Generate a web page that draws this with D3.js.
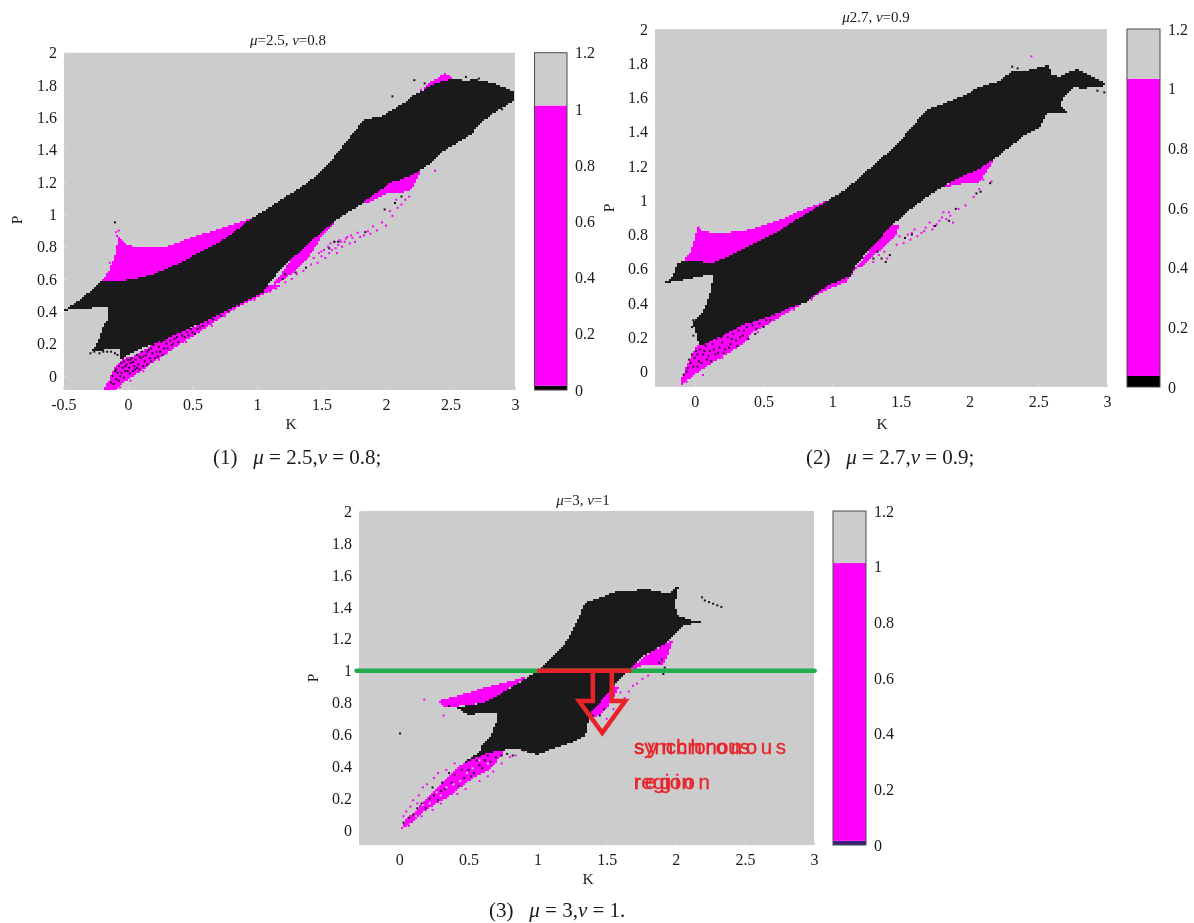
<!DOCTYPE html>
<html><head><meta charset="utf-8">
<script src="https://cdn.jsdelivr.net/npm/d3@7/dist/d3.min.js"></script>
<style>
html,body{margin:0;padding:0;background:#fff}
svg{display:block;filter:blur(0.45px)}
text{font-family:"Liberation Serif","Times New Roman",serif;fill:#1a1a1a}
.domain{display:none}
</style></head><body>
<svg id="c" width="1194" height="923"></svg>
<script>
// ---------- data: tick values and labels ----------
const pTicks = [0,0.2,0.4,0.6,0.8,1,1.2,1.4,1.6,1.8,2];
const kTicksWide = [-0.5,0,0.5,1,1.5,2,2.5,3];
const kTicksNarrow = [0,0.5,1,1.5,2,2.5,3];
const barTicks = [0,0.2,0.4,0.6,0.8,1,1.2];

// colour-bar value bands per panel [from, to]
const bar1Bands = [[0,0.015],[0.015,1.012],[1.012,1.2]];
const bar2Bands = [[0,0.037],[0.037,1.033],[1.033,1.2]];
const bar3Bands = [[0,0.015],[0.015,1.013],[1.013,1.2]];

// ---------- panel 1 outlines in (K,P) ----------
const p1Black = [[-0.5,0.406],[-0.43,0.44],[-0.38,0.47],[-0.33,0.5],[-0.26,0.55],[-0.2,0.595],[-0.1,0.595],[-0.016,0.595],[0.1,0.61],[0.19,0.63],[0.3,0.665],[0.4,0.7],[0.53,0.755],[0.67,0.81],[0.8,0.88],[0.965,0.98],[1.05,1.02],[1.14,1.07],[1.26,1.13],[1.38,1.19],[1.47,1.25],[1.56,1.32],[1.62,1.38],[1.68,1.44],[1.76,1.52],[1.83,1.59],[1.9,1.6],[1.97,1.61],[2.06,1.655],[2.15,1.695],[2.2,1.73],[2.27,1.76],[2.35,1.8],[2.46,1.83],[2.55,1.845],[2.6,1.83],[2.69,1.835],[2.77,1.825],[2.84,1.81],[2.92,1.785],[3,1.76],[3,1.705],[2.94,1.68],[2.9,1.66],[2.82,1.62],[2.72,1.56],[2.67,1.5],[2.63,1.48],[2.52,1.43],[2.42,1.38],[2.36,1.33],[2.3,1.29],[2.2,1.245],[2.09,1.21],[2.04,1.2],[1.9,1.12],[1.78,1.05],[1.65,0.985],[1.52,0.906],[1.4,0.82],[1.26,0.72],[1.15,0.63],[1.08,0.56],[1.05,0.52],[0.9,0.46],[0.74,0.395],[0.585,0.335],[0.4,0.27],[0.25,0.215],[0.1,0.17],[0.05,0.155],[0,0.13],[-0.05,0.1],[-0.06,0.12],[-0.07,0.17],[-0.12,0.17],[-0.2,0.16],[-0.29,0.15],[-0.24,0.2],[-0.2,0.29],[-0.16,0.35],[-0.15,0.42],[-0.2,0.43],[-0.3,0.42],[-0.43,0.415]];
const p1Magenta = [
  [[-0.2,0.595],[-0.15,0.65],[-0.11,0.72],[-0.09,0.78],[-0.075,0.85],[-0.09,0.875],[-0.06,0.86],[-0.015,0.815],[0.05,0.8],[0.13,0.8],[0.28,0.8],[0.38,0.825],[0.48,0.855],[0.6,0.885],[0.72,0.915],[0.84,0.945],[0.965,0.98],[0.67,0.78],[0.4,0.66],[-0.016,0.57]],
  [[-0.19,-0.087],[-0.15,-0.03],[-0.11,0.036],[-0.08,0.08],[-0.03,0.11],[0.03,0.12],[0.1,0.15],[0.18,0.19],[0.22,0.24],[0.26,0.25],[0.3,0.267],[0.35,0.25],[0.406,0.285],[0.5,0.3],[0.6,0.34],[0.7,0.38],[0.8,0.42],[0.9,0.46],[1.0,0.5],[1.08,0.56],[1.2,0.57],[1.08,0.515],[0.95,0.47],[0.85,0.43],[0.716,0.36],[0.6,0.295],[0.48,0.236],[0.35,0.17],[0.2,0.09],[0.04,-0.004],[-0.02,-0.03],[-0.1,-0.087]],
  [[1.08,0.53],[1.18,0.62],[1.26,0.72],[1.4,0.83],[1.52,0.91],[1.62,0.97],[1.56,0.91],[1.5,0.86],[1.42,0.76],[1.36,0.7],[1.28,0.635],[1.2,0.6],[1.12,0.55]],
  [[1.75,1.06],[1.9,1.12],[2.04,1.2],[2.28,1.31],[2.26,1.25],[2.24,1.22],[2.2,1.16],[2.12,1.13],[2.0,1.13],[1.85,1.07]],
  [[2.27,1.77],[2.34,1.82],[2.41,1.85],[2.46,1.875],[2.52,1.85],[2.46,1.825],[2.35,1.79]]
];
const p1MagentaSpecks = [[1.22,0.58],[1.27,0.6],[1.31,0.63],[1.36,0.65],[1.38,0.72],[1.42,0.69],[1.44,0.73],[1.47,0.7],[1.48,0.76],[1.5,0.74],[1.52,0.78],[1.53,0.73],[1.55,0.8],[1.56,0.76],[1.58,0.78],[1.6,0.83],[1.61,0.79],[1.63,0.81],[1.64,0.84],[1.66,0.8],[1.68,0.83],[1.7,0.86],[1.72,0.82],[1.74,0.855],[1.76,0.83],[1.78,0.886],[1.8,0.86],[1.83,0.87],[1.86,0.895],[1.88,0.88],[1.9,0.925],[1.93,0.9],[1.97,0.95],[2.0,0.93],[2.05,0.99],[2.09,1.04],[2.03,1.02],[2.12,1.06],[2.15,1.09],[2.18,1.11],[2.08,1.09],[-0.09,0.89],[-0.07,0.9],[-0.14,0.7],[2.3,1.3],[2.38,1.27],[1.5,0.77],[1.57,0.82],[1.62,0.76],[1.65,0.83],[1.69,0.85],[1.73,0.87],[0.3,0.14],[0.38,0.19],[0.45,0.21],[0.55,0.27],[0.65,0.31],[0.75,0.37],[0.82,0.41],[0.98,0.47],[1.1,0.52],[1.15,0.54],[0.12,0.03],[0.24,0.1],[0.02,-0.03],[-0.06,-0.07],[0.21,0.22],[0.32,0.28],[0.34,0.26]];
const p1BlackSpecks = [[-0.12,0],[-0.1,0.03],[-0.08,0.02],[-0.07,0.06],[-0.06,0],[-0.04,0.05],[-0.03,0.09],[-0.02,0.03],[-0.01,0.07],[0,0.1],[0.01,0.05],[0.02,0.08],[0.03,0.11],[0.05,0.06],[0.06,0.1],[0.07,0.13],[0.08,0.07],[0.1,0.11],[0.11,0.15],[0.13,0.09],[0.14,0.13],[0.16,0.16],[0.17,0.11],[0.19,0.14],[0.2,0.19],[0.22,0.15],[0.24,0.18],[0.26,0.21],[0.28,0.17],[0.3,0.2],[0.33,0.22],[0.35,0.2],[0.38,0.24],[0.42,0.25],[0.46,0.27],[0.5,0.27],[0.54,0.29],[0.58,0.31],[0.62,0.33],[0.66,0.35],[0.72,0.37],[0.78,0.4],[0.86,0.44],[0.92,0.47],[-0.13,-0.04],[-0.11,-0.05],[-0.09,-0.02],[-0.09,0.04],[-0.07,-0.03],[-0.05,0.02],[-0.05,0.08],[-0.03,-0.01],[-0.02,0.06],[0,0.03],[0.015,0.015],[0.02,0.1],[0.04,0.03],[0.04,0.085],[0.055,0.04],[0.07,0.05],[0.09,0.04],[0.09,0.12],[0.12,0.06],[0.12,0.12],[0.15,0.07],[0.15,0.15],[0.18,0.09],[0.18,0.17],[0.21,0.11],[0.23,0.12],[0.23,0.21],[0.25,0.15],[0.27,0.13],[0.29,0.22],[0.31,0.17],[0.32,0.25],[0.34,0.19],[0.36,0.23],[0.37,0.26],[0.39,0.21],[0.41,0.27],[0.44,0.24],[0.47,0.25],[0.49,0.29],[0.52,0.26],[0.56,0.3],[1.2,0.6],[1.22,0.63],[1.3,0.64],[1.38,0.67],[1.6,0.83],[1.63,0.83],[1.56,0.79],[1.84,0.89],[2.07,1.07],[2.12,1.11],[1.99,1.03],[-0.29,0.14],[-0.26,0.15],[-0.22,0.14],[-0.19,0.15],[-0.16,0.15],[-0.13,0.15],[-0.1,0.14],[-0.08,0.13],[-0.1,0.95],[2.22,1.83],[2.3,1.81],[2.62,1.85],[2.72,1.84],[2.05,1.73],[2.85,1.66],[2.9,1.65]];

// ---------- panel 2 outlines in (K,P) ----------
const p2Black = [[-0.234,0.518],[-0.165,0.547],[-0.145,0.59],[-0.124,0.635],[-0.07,0.645],[0.05,0.64],[0.138,0.635],[0.3,0.694],[0.41,0.74],[0.524,0.782],[0.63,0.83],[0.744,0.89],[0.85,0.94],[0.965,0.997],[1.1,1.065],[1.18,1.12],[1.24,1.163],[1.35,1.24],[1.42,1.29],[1.49,1.34],[1.55,1.4],[1.6,1.447],[1.68,1.525],[1.79,1.558],[1.93,1.603],[2.0,1.63],[2.07,1.662],[2.15,1.68],[2.23,1.7],[2.27,1.73],[2.316,1.76],[2.36,1.75],[2.43,1.76],[2.5,1.775],[2.58,1.79],[2.59,1.74],[2.647,1.72],[2.7,1.74],[2.78,1.765],[2.84,1.745],[2.895,1.72],[2.95,1.7],[3,1.675],[2.95,1.66],[2.85,1.655],[2.757,1.656],[2.69,1.613],[2.66,1.554],[2.716,1.505],[2.56,1.505],[2.51,1.427],[2.4,1.378],[2.29,1.31],[2.18,1.24],[2.07,1.183],[1.9,1.124],[1.737,1.046],[1.57,0.948],[1.43,0.85],[1.296,0.733],[1.186,0.635],[1.13,0.557],[1.05,0.53],[0.965,0.499],[0.88,0.45],[0.8,0.4],[0.7,0.375],[0.607,0.342],[0.5,0.31],[0.358,0.274],[0.27,0.24],[0.193,0.205],[0.083,0.166],[0.04,0.147],[0.014,0.205],[-0.014,0.293],[0.055,0.342],[0.09,0.4],[0.11,0.459],[0.138,0.557],[0.11,0.567],[-0.055,0.538],[-0.15,0.525]];
const p2Magenta = [
  [[-0.083,0.645],[-0.03,0.7],[0,0.772],[0.022,0.85],[0.04,0.83],[0.069,0.82],[0.14,0.81],[0.22,0.811],[0.32,0.82],[0.414,0.83],[0.52,0.86],[0.634,0.89],[0.8,0.95],[0.965,0.997],[0.524,0.75],[0.3,0.66],[0.138,0.615],[-0.083,0.62]],
  [[-0.11,-0.068],[-0.07,0.01],[-0.03,0.08],[0.014,0.147],[0.083,0.166],[0.16,0.21],[0.248,0.274],[0.33,0.31],[0.42,0.33],[0.5,0.35],[0.62,0.355],[0.744,0.42],[0.86,0.47],[0.95,0.51],[1.1,0.56],[1.19,0.62],[1.1,0.52],[1.0,0.49],[0.9,0.45],[0.77,0.39],[0.62,0.32],[0.55,0.283],[0.425,0.23],[0.358,0.166],[0.25,0.11],[0.138,0.055],[0.05,0.01],[-0.03,-0.035],[-0.1,-0.08]],
  [[1.186,0.616],[1.296,0.733],[1.43,0.85],[1.49,0.85],[1.46,0.79],[1.35,0.71],[1.296,0.674],[1.21,0.606]],
  [[1.806,1.075],[1.9,1.124],[1.96,1.153],[2.07,1.183],[2.18,1.24],[2.12,1.163],[2.07,1.105],[1.93,1.095]],
  [[2.07,1.662],[2.15,1.68],[2.07,1.655],[2.0,1.63]],
  [[2.29,1.72],[2.33,1.76],[2.31,1.71]]
];
const p2MagentaSpecks = [[1.44,0.78],[1.49,0.79],[1.52,0.75],[1.55,0.8],[1.57,0.77],[1.6,0.83],[1.62,0.79],[1.65,0.81],[1.68,0.84],[1.71,0.87],[1.73,0.83],[1.76,0.86],[1.78,0.88],[1.81,0.93],[1.83,0.89],[1.86,0.91],[1.92,0.95],[1.88,0.87],[1.97,0.97],[2.03,1.02],[2.07,1.065],[2.16,1.11],[2.1,1.12],[2.45,1.84],[0.03,0.84],[1.38,0.7],[1.4,0.66],[1.34,0.68],[1.3,0.64],[1.47,0.74],[1.58,0.81],[1.67,0.82],[1.74,0.85],[1.8,0.9],[1.85,0.93],[0.2,0.08],[0.32,0.15],[0.46,0.23],[0.58,0.3],[0.72,0.36],[0.85,0.42],[0.06,-0.02],[-0.06,-0.06],[0.4,0.34],[0.26,0.29]];
const p2BlackSpecks = [[-0.08,-0.02],[-0.05,0.02],[-0.03,0.05],[-0.02,0.1],[0,0.08],[0.01,0.12],[0.03,0.06],[0.04,0.13],[0.06,0.1],[0.08,0.15],[0.09,0.07],[0.11,0.12],[0.13,0.16],[0.15,0.1],[0.16,0.19],[0.18,0.14],[0.2,0.17],[0.22,0.13],[0.24,0.2],[0.26,0.16],[0.28,0.22],[0.3,0.18],[0.32,0.24],[0.35,0.21],[0.38,0.26],[0.42,0.27],[0.45,0.25],[0.52,0.3],[0.58,0.33],[-0.06,0.0],[-0.04,0.07],[-0.01,0.03],[0.02,0.03],[0.02,0.1],[0.05,0.05],[0.07,0.12],[0.1,0.09],[0.12,0.06],[0.14,0.13],[0.17,0.11],[0.19,0.2],[0.21,0.11],[0.23,0.23],[0.25,0.14],[0.27,0.19],[0.29,0.25],[0.31,0.15],[0.33,0.2],[0.36,0.24],[0.39,0.19],[0.41,0.29],[0.44,0.22],[0.47,0.28],[0.5,0.26],[0.55,0.3],[1.3,0.66],[1.33,0.7],[1.36,0.66],[1.39,0.64],[1.42,0.68],[1.53,0.78],[1.58,0.8],[1.75,0.85],[1.85,0.88],[1.9,0.95],[2.05,1.04],[2.08,1.05],[2.15,1.1],[-0.01,0.21],[0.02,0.24],[-0.02,0.26],[0.01,0.28],[-0.01,0.3],[0.03,0.31],[2.31,1.78],[2.35,1.77],[2.4,1.75],[2.63,1.6],[2.67,1.64],[2.93,1.64],[2.98,1.63],[2.62,1.7]];

// ---------- panel 3 outlines in (K,P) ----------
const p3Black = [[0.443,0.413],[0.52,0.455],[0.58,0.497],[0.6,0.535],[0.66,0.59],[0.7,0.68],[0.705,0.735],[0.6,0.742],[0.5,0.72],[0.415,0.77],[0.61,0.8],[0.72,0.85],[0.83,0.906],[1.01,1.006],[1.08,1.063],[1.19,1.157],[1.27,1.283],[1.343,1.426],[1.42,1.45],[1.496,1.472],[1.58,1.503],[1.68,1.5],[1.77,1.514],[1.86,1.5],[1.94,1.482],[2.02,1.53],[1.99,1.409],[2.02,1.346],[2.1,1.32],[2.19,1.308],[2.05,1.283],[1.94,1.178],[1.77,1.094],[1.66,1.006],[1.55,0.906],[1.47,0.822],[1.385,0.738],[1.343,0.591],[1.25,0.55],[1.163,0.528],[0.997,0.476],[0.85,0.51],[0.776,0.507],[0.66,0.49],[0.58,0.465]];
const p3Magenta = [
  [[0.277,0.811],[0.45,0.85],[0.61,0.895],[0.78,0.93],[0.94,0.968],[0.72,0.85],[0.61,0.8],[0.443,0.78],[0.319,0.774],[0.3,0.79]],
  [[0.004,0.005],[0.05,0.07],[0.1,0.11],[0.2,0.2],[0.33,0.32],[0.443,0.41],[0.6,0.49],[0.776,0.518],[0.72,0.45],[0.665,0.39],[0.5,0.31],[0.36,0.214],[0.2,0.135],[0.11,0.06]],
  [[1.385,0.738],[1.47,0.822],[1.55,0.906],[1.59,0.9],[1.53,0.8],[1.47,0.74],[1.4,0.7]],
  [[1.66,1.0],[1.77,1.09],[1.94,1.178],[1.98,1.19],[1.95,1.115],[1.9,1.03],[1.86,1.04],[1.75,1.03]]
];
const p3MagentaSpecks = [[0.05,0.12],[0.08,0.15],[0.1,0.19],[0.14,0.22],[0.17,0.27],[0.12,0.1],[0.2,0.29],[0.25,0.33],[0.55,0.34],[0.62,0.38],[0.68,0.37],[0.74,0.42],[0.8,0.46],[0.84,0.47],[0.9,0.5],[0.95,0.49],[1.58,0.82],[1.6,0.864],[1.63,0.83],[1.66,0.87],[1.69,0.906],[1.72,0.92],[1.76,0.95],[1.8,0.97],[1.83,1.0],[1.5,0.7],[1.55,0.76],[0.18,0.82],[0.32,0.72],[0.07,0.03],[0.16,0.09],[0.24,0.13],[0.3,0.17],[0.42,0.23],[0.48,0.26],[0.58,0.31],[0.64,0.34],[0.28,0.36],[0.34,0.38],[0.4,0.42],[0.03,0.09],[0.13,0.17]];
const p3BlackSpecks = [[0.03,0.05],[0.07,0.08],[0.1,0.1],[0.13,0.14],[0.16,0.17],[0.19,0.14],[0.22,0.2],[0.25,0.22],[0.28,0.19],[0.31,0.3],[0.33,0.26],[0.36,0.36],[0.4,0.35],[0.43,0.28],[0.47,0.33],[0.5,0.38],[0.54,0.36],[0.58,0.41],[0.62,0.44],[0.66,0.43],[0.7,0.46],[0.74,0.47],[0.78,0.48],[0.82,0.47],[0.24,0.27],[0.3,0.25],[0.38,0.3],[0.45,0.38],[0.52,0.34],[0.56,0.44],[0.6,0.39],[0.64,0.47],[0.005,0.608],[2.19,1.46],[2.21,1.44],[2.24,1.43],[2.27,1.42],[2.3,1.41],[2.33,1.4],[1.88,1.05],[1.9,1.07],[1.92,1.02],[1.91,0.98],[0.36,0.78],[0.46,0.76],[0.52,0.76],[1.4,0.72],[1.45,0.72],[1.48,0.76]];
const p3GrayHoles = [[0.12,0.09],[0.17,0.16],[0.22,0.17],[0.27,0.24],[0.3,0.22],[0.34,0.27],[0.39,0.29],[0.44,0.31],[0.49,0.36],[0.53,0.39],[0.58,0.44],[0.64,0.42]];

// ---------- annotation values for panel 3 ----------
const p3GuideP = 1;
const p3GuideK = [-0.31,3.005];
const p3RedK = [1.01,1.665];
const p3Arrow = [[1.4,1],[1.4,0.811],[1.3,0.811],[1.468,0.612],[1.634,0.811],[1.537,0.811],[1.537,1]];
const p3AnnotationLines = ["synchronous","region"];

// ---------- layout ----------
const panels = [
 {box:[64,515,52.7,390], k:[-0.495,3], p:[-0.087,2], kt:kTicksWide, bar:[534.5,567], bands:bar1Bands, black:p1Black, magenta:p1Magenta, ms:p1MagentaSpecks, bs:p1BlackSpecks, holes:[],
  title:[["μ","i"],["=2.5, ",""],["ν","i"],["=0.8",""]], tp:[288,45], kl:[291,429], pl:[22,220], tickY:407, low:"#000"},
 {box:[655,1107,29,387], k:[-0.289,3], p:[-0.09,2], kt:kTicksNarrow, bar:[1127,1160], bands:bar2Bands, black:p2Black, magenta:p2Magenta, ms:p2MagentaSpecks, bs:p2BlackSpecks, holes:[],
  title:[["μ","i"],["2.7, ",""],["ν","i"],["=0.9",""]], tp:[876,22], kl:[882,429], pl:[614,208], tickY:404, low:"#000"},
 {box:[359,814,511,845], k:[-0.292,3], p:[-0.09,2], kt:kTicksNarrow, bar:[833,866], bands:bar3Bands, black:p3Black, magenta:p3Magenta, ms:p3MagentaSpecks, bs:p3BlackSpecks, holes:p3GrayHoles,
  title:[["μ","i"],["=3, ",""],["ν","i"],["=1",""]], tp:[583,505], kl:[588,884], pl:[318,678], tickY:862, low:"#3b1f78"}
];
const captions = [
 {x:213,y:464,lab:"(1)",mu:" = 2.5,",nu:" = 0.8;"},
 {x:806,y:464,lab:"(2)",mu:" = 2.7,",nu:" = 0.9;"},
 {x:489,y:917,lab:"(3)",mu:" = 3,",nu:" = 1."}
];

const svg = d3.select("#c");
const GRAY="#cccccc", BLK="#1a1a1a", MAG="#ff00ff";

// fill a polygon given in data units as horizontal runs of 2px simulation cells
function cells(parent, poly, fill, X, Y, box){
  const [x0,x1,y0,y1]=box, runs=[];
  for(let py=y0;py<y1;py+=2){
    let start=null;
    for(let px=x0;px<=x1;px+=2){
      const inside=px<x1 && d3.polygonContains(poly,[X.invert(px+1),Y.invert(py+1)]);
      if(inside&&start===null) start=px;
      if(!inside&&start!==null){ runs.push({x:start,y:py,w:px-start}); start=null; }
    }
  }
  parent.append("g").attr("shape-rendering","crispEdges").selectAll("rect").data(runs).join("rect")
    .attr("x",d=>d.x).attr("y",d=>d.y).attr("width",d=>d.w).attr("height",2).attr("fill",fill);
}

panels.forEach((pn,i)=>{
  const [x0,x1,y0,y1]=pn.box;
  const X=d3.scaleLinear().domain(pn.k).range([x0,x1]);
  const Y=d3.scaleLinear().domain(pn.p).range([y1,y0]);
  const g=svg.append("g");
  g.append("rect").attr("x",x0).attr("y",y0).attr("width",x1-x0).attr("height",y1-y0).attr("fill",GRAY);

  // faint edge ticks
  const faint=[d3.axisBottom(X).tickValues(pn.kt).tickSize(-3).tickFormat(""),d3.axisLeft(Y).tickValues(pTicks).tickSize(-3).tickFormat("")];
  g.append("g").attr("transform",`translate(0,${y1})`).call(faint[0]).selectAll("line").attr("stroke","#dcdcdc");
  g.append("g").attr("transform",`translate(${x0},0)`).call(faint[1]).selectAll("line").attr("stroke","#dcdcdc");

  const clipId="clip"+i;
  g.append("clipPath").attr("id",clipId).append("rect").attr("x",x0).attr("y",y0).attr("width",x1-x0).attr("height",y1-y0);
  const body=g.append("g").attr("clip-path",`url(#${clipId})`);
  pn.magenta.forEach(m=>cells(body,m,MAG,X,Y,pn.box));
  body.selectAll("rect.ms").data(pn.ms).join("rect").attr("class","ms").attr("x",d=>X(d[0])-1).attr("y",d=>Y(d[1])-1).attr("width",2).attr("height",2).attr("fill",MAG);
  cells(body,pn.black,BLK,X,Y,pn.box);
  body.selectAll("rect.bs").data(pn.bs).join("rect").attr("class","bs").attr("x",d=>X(d[0])-1).attr("y",d=>Y(d[1])-1).attr("width",2).attr("height",2).attr("fill","#240a24");
  body.selectAll("rect.hs").data(pn.holes).join("rect").attr("class","hs").attr("x",d=>X(d[0])-1).attr("y",d=>Y(d[1])-1).attr("width",2).attr("height",2).attr("fill",GRAY);

  // axes: labels
  const ax=g.append("g").attr("transform",`translate(0,${pn.tickY-11})`)
    .call(d3.axisBottom(X).tickValues(pn.kt).tickFormat(d=>String(d)).tickSize(0).tickPadding(0));
  ax.selectAll("text").attr("font-size",16).attr("dy","0.71em").attr("y",3);
  const ay=g.append("g").attr("transform",`translate(${x0-7},0)`)
    .call(d3.axisLeft(Y).tickValues(pTicks).tickFormat(d=>String(d)).tickSize(0).tickPadding(0));
  ay.selectAll("text").attr("font-size",16);
  g.selectAll("text").attr("font-family","Liberation Serif");
  g.append("text").attr("x",pn.kl[0]).attr("y",pn.kl[1]).attr("text-anchor","middle").attr("font-size",15.5).text("K");
  g.append("text").attr("transform",`translate(${pn.pl[0]},${pn.pl[1]}) rotate(-90)`).attr("text-anchor","middle").attr("font-size",15.5).text("P");
  const t=g.append("text").attr("x",pn.tp[0]).attr("y",pn.tp[1]).attr("text-anchor","middle").attr("font-size",15);
  pn.title.forEach(s=>t.append("tspan").attr("font-style",s[1]?"italic":"normal").text(s[0]));

  // colour bar
  const B=d3.scaleLinear().domain([0,1.2]).range([y1,y0]);
  const barFill=[pn.low,MAG,GRAY];
  g.selectAll("rect.b").data(pn.bands).join("rect").attr("class","b")
    .attr("x",pn.bar[0]).attr("width",pn.bar[1]-pn.bar[0])
    .attr("y",d=>B(d[1])).attr("height",d=>B(d[0])-B(d[1])).attr("fill",(d,j)=>barFill[j]);
  g.append("rect").attr("x",pn.bar[0]).attr("y",y0).attr("width",pn.bar[1]-pn.bar[0]).attr("height",y1-y0).attr("fill","none").attr("stroke","#4a4a4a").attr("stroke-width",1);
  const ab=g.append("g").attr("transform",`translate(${pn.bar[1]+8},0)`)
    .call(d3.axisRight(B).tickValues(barTicks).tickFormat(d=>String(d)).tickSize(0).tickPadding(0));
  ab.selectAll("text").attr("font-size",16).attr("font-family","Liberation Serif");

  // panel 3 annotation
  if(i===2){
    const RED="#e8242a";
    g.append("line").attr("x1",X(p3GuideK[0])).attr("x2",X(p3GuideK[1])).attr("y1",Y(p3GuideP)).attr("y2",Y(p3GuideP)).attr("stroke","#22ac4c").attr("stroke-width",4.5).attr("stroke-linecap","round");
    g.append("line").attr("x1",X(p3RedK[0])).attr("x2",X(p3RedK[1])).attr("y1",Y(p3GuideP)).attr("y2",Y(p3GuideP)).attr("stroke",RED).attr("stroke-width",4.5).attr("stroke-linecap","round");
    g.append("path").attr("d",d3.line().x(d=>X(d[0])).y(d=>Y(d[1]))(p3Arrow)).attr("fill","none").attr("stroke",RED).attr("stroke-width",4.5).attr("stroke-linejoin","miter");
    const anno=[[634,754,p3AnnotationLines[0],152,116],[634,789,p3AnnotationLines[1],76,59]];
    anno.forEach(a=>{
      [a[3],a[4]].forEach(w=>{
        g.append("text").attr("x",a[0]).attr("y",a[1]).attr("textLength",w).attr("lengthAdjust","spacing")
          .style("font-family","'Liberation Sans',sans-serif").style("fill",RED).style("stroke",RED).style("stroke-width",0.3).attr("font-size",20.5).text(a[2]);
      });
    });
  }
});

captions.forEach(c=>{
  const t=svg.append("text").attr("x",c.x).attr("y",c.y).attr("font-size",21).attr("xml:space","preserve").style("white-space","pre");
  t.append("tspan").text(c.lab+"   ");
  t.append("tspan").attr("font-style","italic").text("μ");
  t.append("tspan").text(c.mu);
  t.append("tspan").attr("font-style","italic").text("ν");
  t.append("tspan").text(c.nu);
});
</script>
</body></html>
